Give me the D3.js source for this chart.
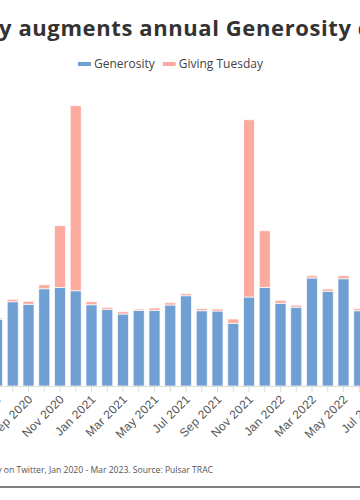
<!DOCTYPE html>
<html>
<head>
<meta charset="utf-8">
<script src="https://cdn.jsdelivr.net/npm/d3@7"></script>
<style>
  html, body { margin: 0; padding: 0; background: #fff; overflow: hidden; }
  svg { display: block; font-family: "Open Sans", Lato, sans-serif; }
</style>
</head>
<body>
<div class="svgtarget"></div>
<script>
// monthly volumes (thousands of mentions), Jan 2020 - Mar 2023
var months = ["Jan 2020","Feb 2020","Mar 2020","Apr 2020","May 2020","Jun 2020",
              "Jul 2020","Aug 2020","Sep 2020","Oct 2020","Nov 2020","Dec 2020",
              "Jan 2021","Feb 2021","Mar 2021","Apr 2021","May 2021","Jun 2021",
              "Jul 2021","Aug 2021","Sep 2021","Oct 2021","Nov 2021","Dec 2021",
              "Jan 2022","Feb 2022","Mar 2022","Apr 2022","May 2022","Jun 2022",
              "Jul 2022","Aug 2022","Sep 2022","Oct 2022","Nov 2022","Dec 2022",
              "Jan 2023","Feb 2023","Mar 2023"];
var generosity = [60, 58, 95, 110, 90, 72,
                  66.5, 84.3, 81.7, 97.3, 98.5, 95.3,
                  81.3, 76.7, 72, 75.7, 75.7, 81,
                  90.3, 75.3, 75, 62.7, 89, 98.5,
                  82.7, 78.8, 108, 94.7, 107.3, 75.3,
                  70, 72, 74, 80, 95, 90,
                  78, 72, 80];
var givingTuesday = [0.8, 0.5, 1, 1, 1, 1.5,
                     1.5, 2.4, 3, 4, 61.8, 185,
                     3, 2, 2.3, 1.3, 2.3, 2.3,
                     2, 2, 2, 4.3, 177.3, 56.8,
                     3, 2, 2.3, 2.3, 3, 2,
                     2, 2, 2, 4, 165, 40,
                     3, 2, 2];
var seriesNames = ["Generosity", "Giving Tuesday"];
var colors = ["#6f9fd3", "#fdab9e"];

var title = "Giving Tuesday augments annual Generosity conversation";
var note = "Monthly conversation volume about Generosity on Twitter, Jan 2020 - Mar 2023. Source: Pulsar TRAC";

var W = 360, H = 500;
var svg = d3.select(".svgtarget").append("svg")
            .attr("width", W)
            .attr("height", H);

// chart is wider than the window, so the band range starts off screen
var step = 15.75;
var x0 = 60 - 10.5 * step;
var x = d3.scaleBand()
          .domain(months)
          .range([x0, x0 + months.length * step])
          .paddingInner(0.3)
          .paddingOuter(0.15);

var y = d3.scaleLinear().domain([0, 300]).range([386, 86]);

var rows = months.map(function(m, i) {
    return {month: m, Generosity: generosity[i], "Giving Tuesday": givingTuesday[i]};
});
var stacked = d3.stack().keys(seriesNames)(rows);

svg.append("g").selectAll("g")
   .data(stacked)
   .enter().append("g")
   .attr("fill", function(d, i) { return colors[i]; })
   .selectAll("rect")
   .data(function(d) { return d; })
   .enter().append("rect")
   .attr("x", function(d) { return x(d.data.month); })
   .attr("width", x.bandwidth())
   .attr("y", function(d) { return y(d[1]); })
   .attr("height", function(d) { return y(d[0]) - y(d[1]); })
   .attr("stroke", "#fff")
   .attr("stroke-opacity", 0.7)
   .attr("stroke-width", 1);

var xAxis = d3.axisBottom(x)
              .tickSize(6)
              .tickSizeOuter(0)
              .tickFormat(function(d, i) { return i % 2 == 0 ? d : ""; });

var gx = svg.append("g")
            .attr("transform", "translate(0,386)")
            .call(xAxis);
gx.select(".domain").attr("stroke", "#ddd");
gx.selectAll(".tick line").attr("stroke", "#ddd");
gx.selectAll(".tick text")
  .attr("fill", "#555")
  .style("font-size", "12px")
  .style("letter-spacing", "0.3px")
  .attr("text-anchor", "end")
  .attr("x", 0).attr("y", 0).attr("dy", 0)
  .attr("transform", "translate(5,14) rotate(-45)");

// title, placed so the middle of it sits in the window
var t = svg.append("text")
           .attr("y", 36)
           .attr("fill", "#333")
           .style("font-size", "22px")
           .style("font-weight", "bold")
           .style("letter-spacing", "0.6px")
           .text(title);
var off = t.node().getSubStringLength(0, title.indexOf("y augments"));
t.attr("x", -off - 1);

// legend
var legend = svg.append("g").attr("transform", "translate(78,68)");
var lx = 0;
seriesNames.forEach(function(name, i) {
    legend.append("rect")
          .attr("x", lx).attr("y", -6)
          .attr("width", 13).attr("height", 4)
          .attr("fill", colors[i]);
    var lt = legend.append("text")
                   .attr("x", lx + 16)
                   .attr("fill", "#444")
                   .style("font-size", "12px")
                   .text(name);
    lx += 16 + lt.node().getComputedTextLength() + 8;
});

svg.append("text")
   .attr("x", 213).attr("y", 473)
   .attr("text-anchor", "end")
   .attr("fill", "#555")
   .style("font-size", "8.6px")
   .text(note);

svg.append("line")
   .attr("x1", 0).attr("x2", W)
   .attr("y1", 487).attr("y2", 487)
   .attr("stroke", "#555")
   .attr("stroke-width", 1.5);
</script>
</body>
</html>
